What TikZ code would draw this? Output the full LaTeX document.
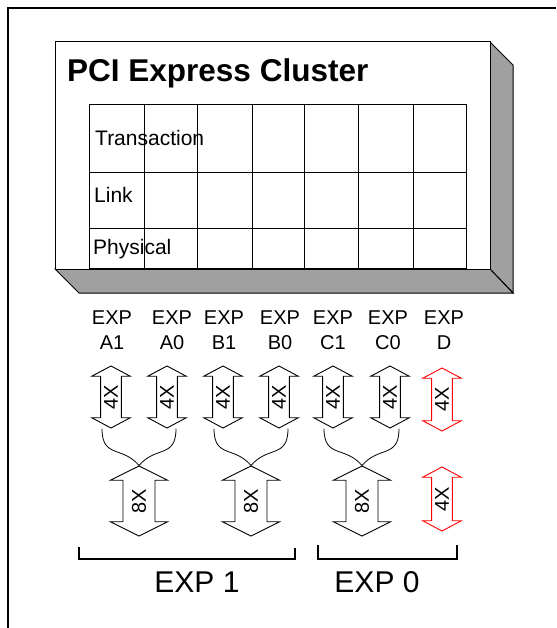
\documentclass[tikz,border=0pt]{standalone}
\usepackage{fontspec}
\setmainfont{Liberation Sans}
\usetikzlibrary{shapes.arrows}
\definecolor{sidegray}{RGB}{160,160,160}

\tikzset{
	lane/.style={double arrow, draw, line width=0.9pt, rotate=90,
		double arrow tip angle=124, double arrow head extend=9pt,
		minimum height=62pt, minimum width=38pt,
		inner xsep=0pt, inner ysep=3pt, font=\fontsize{20pt}{24pt}\selectfont},
	widelane/.style={lane, double arrow tip angle=127, double arrow head extend=12.5pt,
		minimum height=70pt, minimum width=56pt, inner ysep=8.5pt},
	sparelane/.style={lane, draw=red},
	port/.style={align=center, anchor=north, inner sep=0pt, font=\fontsize{20pt}{25pt}\selectfont},
	layer/.style={anchor=base west, inner sep=0pt, font=\fontsize{21pt}{25pt}\selectfont},
	group/.style={anchor=base, inner sep=0pt, font=\fontsize{30pt}{36pt}\selectfont},
	merge/.style={line width=0.8pt}
}

\begin{document}
\begin{tikzpicture}[x=1pt, y=-1pt]
	\useasboundingbox (0,0) rectangle (556,628);

	% Ramme
	\draw[line width=2pt] (8,628) -- (8,8) -- (556,8);

	% Cluster box (front, right side, bottom)
	\filldraw[fill=sidegray, line width=1pt] (490,42) -- (513,65) -- (513,293) -- (490,269) -- cycle;
	\filldraw[fill=sidegray, line width=1pt] (55,269) -- (79,293) -- (513,293) -- (490,269) -- cycle;
	\filldraw[fill=white, line width=1pt] (55,42) rectangle (490,269);
	\node[anchor=base west, inner sep=0pt, font=\bfseries\fontsize{31.5pt}{36pt}\selectfont] (title) at (67,82) {PCI Express Cluster};

	% Layer grid
	\draw[line width=0.9pt] (89,104) rectangle (466,268);
	\foreach \y in {172,228}
		\draw[line width=0.9pt] (89,\y) -- (466,\y);
	\foreach \x in {144,197,252,304,358,413}
		\draw[line width=0.9pt] (\x,104) -- (\x,268);
	\node[layer] (trans) at (95,146) {Transaction};
	\node[layer] (link) at (94,203) {Link};
	\node[layer] (phys) at (93,254) {Physical};

	% Ports
	\node[port] (pa1) at (112,310.5) {EXP\\A1};
	\node[port] (pa0) at (172,310.5) {EXP\\A0};
	\node[port] (pb1) at (224,310.5) {EXP\\B1};
	\node[port] (pb0) at (280,310.5) {EXP\\B0};
	\node[port] (pc1) at (333,310.5) {EXP\\C1};
	\node[port] (pc0) at (388,310.5) {EXP\\C0};
	\node[port] (pd) at (444,310.5) {EXP\\D};

	% 4X lanes
	\node[lane] (a1) at (111,397) {4X};
	\node[lane] (a0) at (167,397) {4X};
	\node[lane] (b1) at (223,397) {4X};
	\node[lane] (b0) at (279,397) {4X};
	\node[lane] (c1) at (333,397) {4X};
	\node[lane] (c0) at (390,397) {4X};
	\node[sparelane, minimum height=63pt] (d) at (442,399.5) {4X};

	% 8X lanes
	\node[widelane] (x1) at (139,501) {8X};
	\node[widelane] (x2) at (251,501) {8X};
	\node[widelane] (x3) at (362,501) {8X};
	\node[sparelane, minimum height=64pt] (dd) at (442,499) {4X};

	% Zusammenfuehrung
	\draw[merge] ([xshift=-9pt]a1.tip 2) .. controls +(0,30) and +(-17,-20) .. (x1.tip 1);
	\draw[merge] ([xshift=9pt]a0.tip 2) .. controls +(0,30) and +(17,-20) .. (x1.tip 1);
	\draw[merge] ([xshift=-9pt]b1.tip 2) .. controls +(0,30) and +(-17,-20) .. (x2.tip 1);
	\draw[merge] ([xshift=9pt]b0.tip 2) .. controls +(0,30) and +(17,-20) .. (x2.tip 1);
	\draw[merge] ([xshift=-9pt]c1.tip 2) .. controls +(0,30) and +(-17,-20) .. (x3.tip 1);
	\draw[merge] ([xshift=9pt]c0.tip 2) .. controls +(0,30) and +(17,-20) .. (x3.tip 1);

	% Klammern
	\draw[line width=1.5pt] (79,547) -- (79,559) -- (295,559) -- (295,548);
	\draw[line width=1.5pt] (318,545) -- (318,559) -- (457,559) -- (457,545);
	\node[group] (exp1) at (197,592) {EXP 1};
	\node[group] (exp0) at (377,592) {EXP 0};
\end{tikzpicture}
\end{document}
